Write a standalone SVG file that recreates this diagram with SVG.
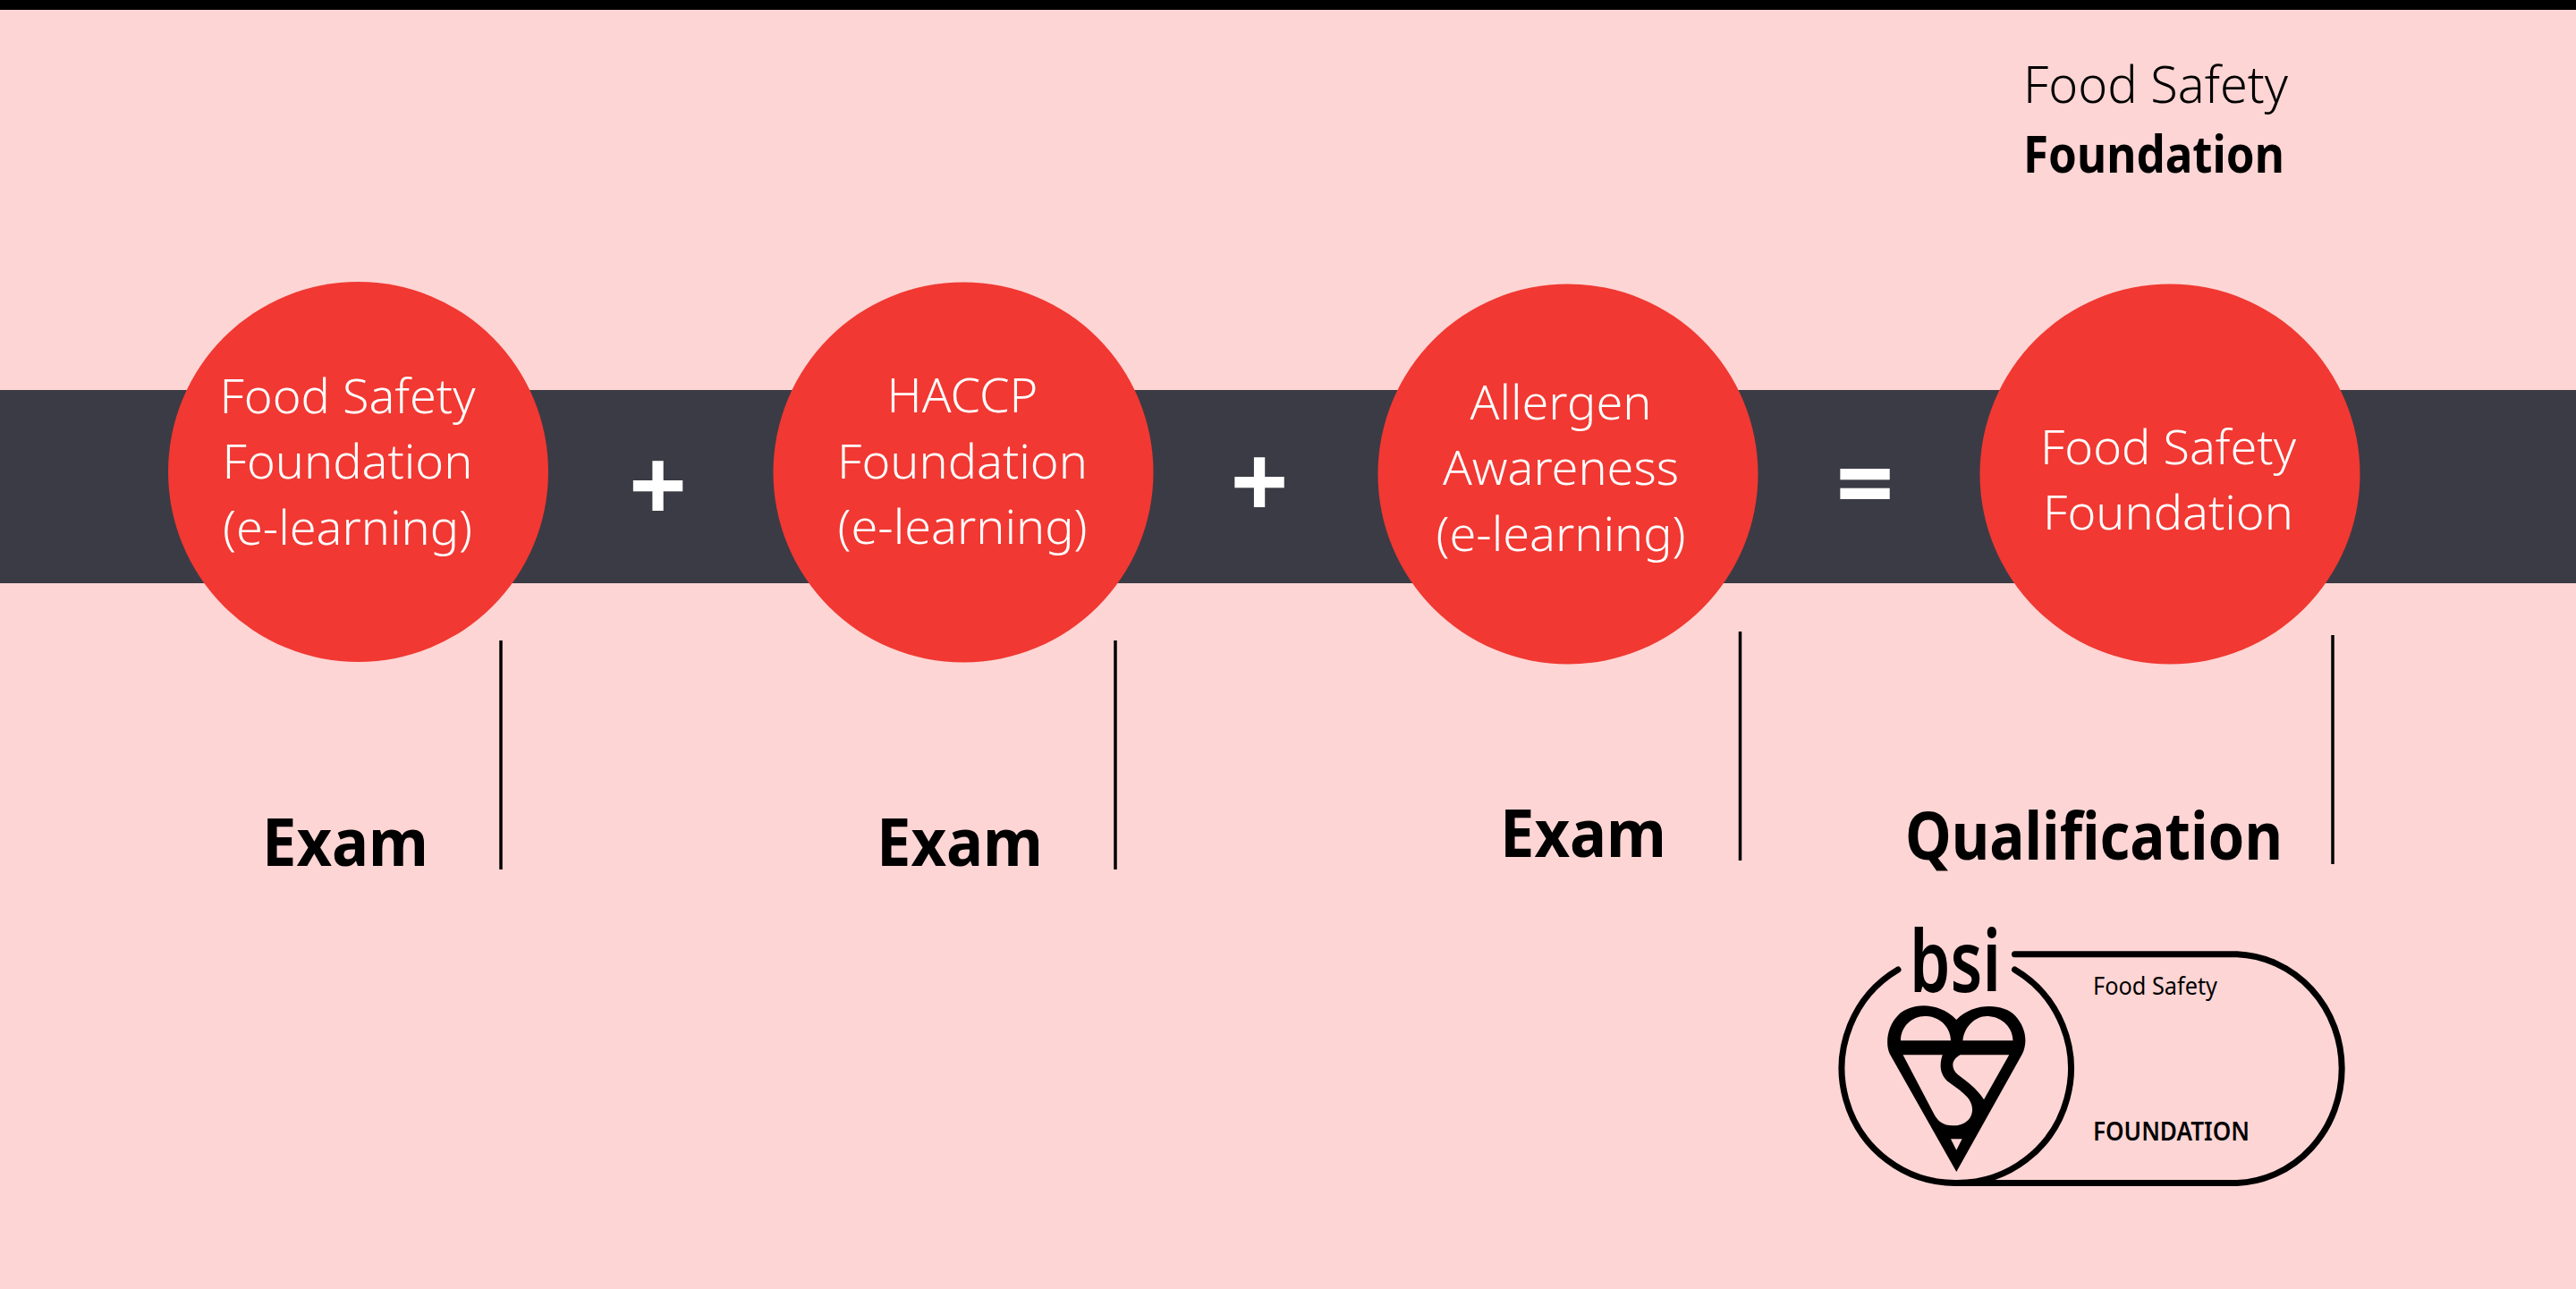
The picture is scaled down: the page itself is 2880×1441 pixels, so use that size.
<svg xmlns="http://www.w3.org/2000/svg" width="2880" height="1441" viewBox="0 0 2880 1441">
<style>
text{font-family:"Noto Sans","Open Sans",sans-serif}
.c{fill:#f13832}
.l{fill:#fff;font-size:54px;font-weight:300;text-anchor:middle}
.x{fill:#000;font-size:74px;font-weight:700}
.s{fill:#fff;font-size:114px;font-weight:700;text-anchor:middle}
.v{stroke:#000;stroke-width:3.5;fill:none}
.r{fill:none;stroke:#000;stroke-width:7;stroke-linecap:round}
</style>
<rect width="2880" height="1441" fill="#fdd5d4"/>
<rect width="2880" height="11" fill="#000"/>
<rect y="436" width="2880" height="216" fill="#3b3b45"/>
<g id="connectors">
<line class="v" x1="560" y1="716" x2="560" y2="972"/>
<line class="v" x1="1247" y1="716" x2="1247" y2="972"/>
<line class="v" x1="1945.500" y1="706" x2="1945.500" y2="962"/>
<line class="v" x1="2608" y1="710" x2="2608" y2="966"/>
</g>
<g id="title">
<text x="2262" y="115" font-size="57" font-weight="300" textLength="296" lengthAdjust="spacingAndGlyphs">Food Safety</text>
<text x="2262" y="193" font-size="57" font-weight="700" textLength="292" lengthAdjust="spacingAndGlyphs">Foundation</text>
</g>
<g id="node1">
<circle class="c" cx="400.500" cy="527.500" r="212.500"/>
<text class="l" x="388.500" y="462">Food Safety</text>
<text class="l" x="388.500" y="535">Foundation</text>
<text class="l" x="388.500" y="609">(e-learning)</text>
</g>
<g id="node2">
<circle class="c" cx="1077" cy="528" r="212.500"/>
<text class="l" x="1076" y="461">HACCP</text>
<text class="l" x="1076" y="535">Foundation</text>
<text class="l" x="1076" y="608">(e-learning)</text>
</g>
<g id="node3">
<circle class="c" cx="1753" cy="530" r="212.500"/>
<text class="l" x="1745" y="469">Allergen</text>
<text class="l" x="1745" y="542">Awareness</text>
<text class="l" x="1745" y="616">(e-learning)</text>
</g>
<g id="node4">
<circle class="c" cx="2426" cy="530" r="212.500"/>
<text class="l" x="2424" y="519">Food Safety</text>
<text class="l" x="2424" y="592">Foundation</text>
</g>
<g id="operators">
<text class="s" x="735.500" y="584">+</text>
<text class="s" x="1408" y="580">+</text>
<text class="s" x="2085" y="581">=</text>
</g>
<g id="labels">
<text class="x" x="293" y="968" textLength="186" lengthAdjust="spacingAndGlyphs">Exam</text>
<text class="x" x="980" y="968" textLength="186" lengthAdjust="spacingAndGlyphs">Exam</text>
<text class="x" x="1677" y="958" textLength="186" lengthAdjust="spacingAndGlyphs">Exam</text>
<text class="x" x="2130" y="961" textLength="422" lengthAdjust="spacingAndGlyphs">Qualification</text>
</g>
<g id="logo">
<path class="r" d="M2122 1084 A127 128 0 0 0 2187.500 1322.500 L2501 1322.500 A122 128 0 0 0 2501 1066.700 L2252.500 1066.700"/>
<path class="r" d="M2252.500 1084 A127 128 0 0 1 2187.500 1322.500"/>
<text x="2135" y="1109" font-size="96" font-weight="600" textLength="102" lengthAdjust="spacingAndGlyphs">bsi</text>
<path transform="translate(2000 1000) scale(.4209 .33333)" fill-rule="evenodd" d="M445 930 L268 535 C255 500 262 440 290 405 C320 365 395 355 445 420 C490 360 570 365 600 405 C630 445 635 495 620 535 Z M297 490 C297 440 330 405 365 408 C405 410 430 450 430 490 Z M462 490 C465 445 495 405 530 408 C570 412 595 450 595 490 Z M303 538 L408 538 C400 570 400 600 420 625 C450 655 490 680 487 725 C485 760 460 775 435 775 C410 775 395 760 385 735 Z M455 538 L585 538 L518 688 C500 650 470 625 450 605 C430 585 430 555 455 538 Z M430 820 L460 820 L445 857 Z"/>
<text x="2340" y="1112" font-size="27" font-weight="400" textLength="139" lengthAdjust="spacingAndGlyphs">Food Safety</text>
<text x="2340" y="1275" font-size="29" font-weight="600" textLength="175" lengthAdjust="spacingAndGlyphs">FOUNDATION</text>
</g>
</svg>
